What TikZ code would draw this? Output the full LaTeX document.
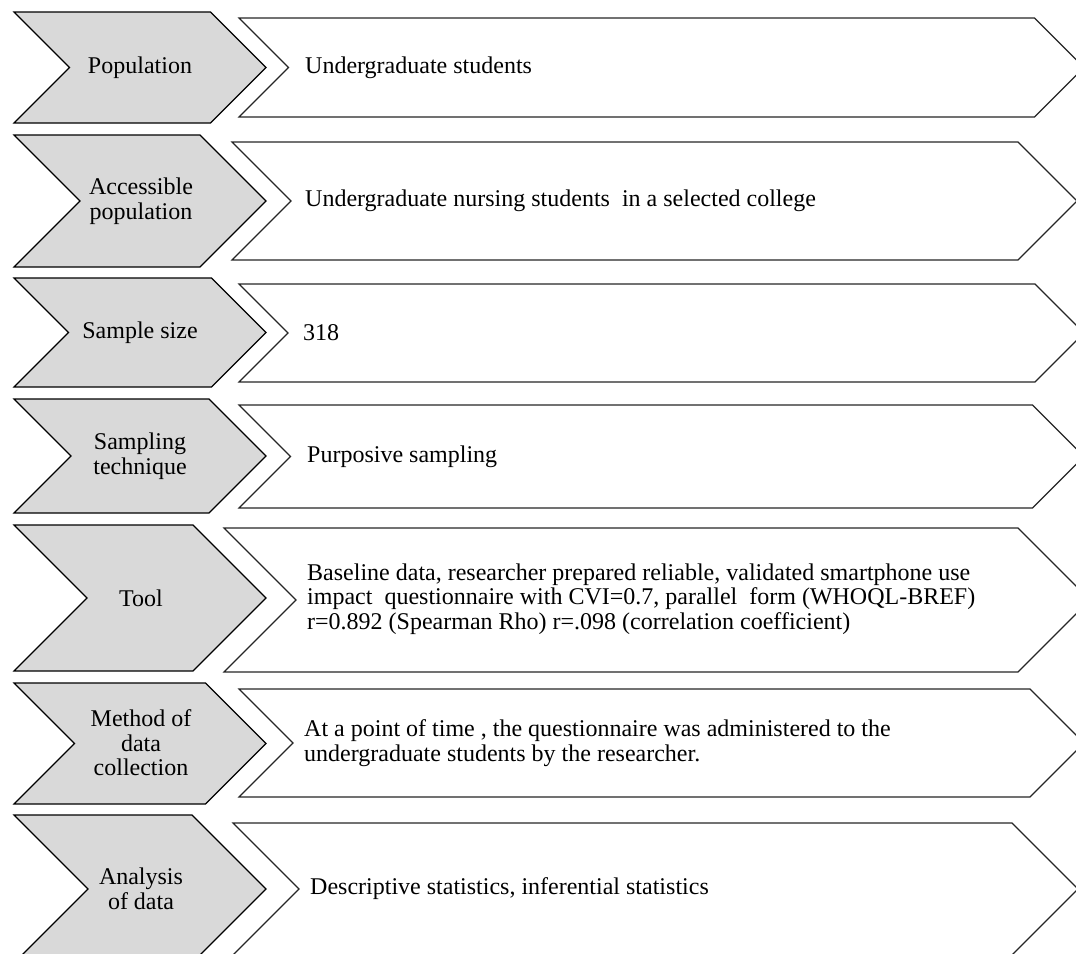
\documentclass[tikz,border=0pt]{standalone}
\usepackage{fontspec}
\setmainfont{Liberation Serif}
\usepackage{xcolor}
\definecolor{stepgray}{HTML}{D9D9D9}
\usepackage{tikz}
\usetikzlibrary{positioning}

% chevron: style, left x, tip x, top y, bottom y
\newcommand{\chev}[5]{%
  \draw[#1] (#2,#4) -- ({#3-(#5-#4)/2},#4) -- (#3,{(#4+#5)/2})
    -- ({#3-(#5-#4)/2},#5) -- (#2,#5) -- ({#2+(#5-#4)/2},{(#4+#5)/2}) -- cycle;}

\begin{document}
\begin{tikzpicture}[x=1pt, y=-1pt, font=\fontsize{24}{24.5}\selectfont,
  keybox/.style={draw=black, line width=1.1pt, fill=stepgray, line join=miter},
  infobox/.style={draw=black!85, line width=1.1pt, fill=white, line join=miter},
  keytext/.style={inner sep=0pt, align=center},
  infotext/.style={inner sep=0pt, align=left, anchor=west}]
  \useasboundingbox (0,0) rectangle (1076,953);
  \clip (0,0) rectangle (1076,953);

  % left column
  \chev{keybox}{14}{266}{12}{123}
  \chev{keybox}{14}{266}{135}{267}
  \chev{keybox}{14}{266}{278}{387}
  \chev{keybox}{14}{266}{399}{513}
  \chev{keybox}{14}{266}{525}{671}
  \chev{keybox}{14}{266}{683}{804}
  \chev{keybox}{14}{266}{815}{963}

  % right column
  \chev{infobox}{239}{1084}{18}{117}
  \chev{infobox}{232}{1077}{142}{260}
  \chev{infobox}{239}{1084}{284}{382}
  \chev{infobox}{239}{1084}{405}{508}
  \chev{infobox}{224}{1090}{528}{672}
  \chev{infobox}{239}{1084}{689}{797}
  \chev{infobox}{233}{1078}{823}{955}

  \node[keytext] (popK) at (140,67.5) {Population};
  \node[keytext] (accK) at (141,201) {Accessible\\population};
  \node[keytext] (sizeK) at (140,332.5) {Sample size};
  \node[keytext] (techK) at (140,456) {Sampling\\technique};
  \node[keytext] (toolK) at (141,598) {Tool};
  \node[keytext] (methK) at (141,743) {Method of\\data\\collection};
  \node[keytext] (anaK) at (141,889) {Analysis\\of data};

  \node[infotext] (popV) at (305,67.5) {Undergraduate students};
  \node[infotext] (accV) at (305,201) {Undergraduate nursing students\ \ in a selected college};
  \node[infotext] (sizeV) at (303,333) {318};
  \node[infotext] (techV) at (307,456.5) {Purposive sampling};
  \node[infotext] (toolV) at (307,599) {Baseline data, researcher prepared reliable, validated smartphone use\\
    impact\ \ questionnaire with CVI=0.7, parallel\ \ form (WHOQL-BREF)\\
    r=0.892 (Spearman Rho) r=.098 (correlation coefficient)};
  \node[infotext] (methV) at (304,743) {At a point of time , the questionnaire was administered to the\\
    undergraduate students by the researcher.};
  \node[infotext] (anaV) at (310,889) {Descriptive statistics, inferential statistics};
\end{tikzpicture}
\end{document}
